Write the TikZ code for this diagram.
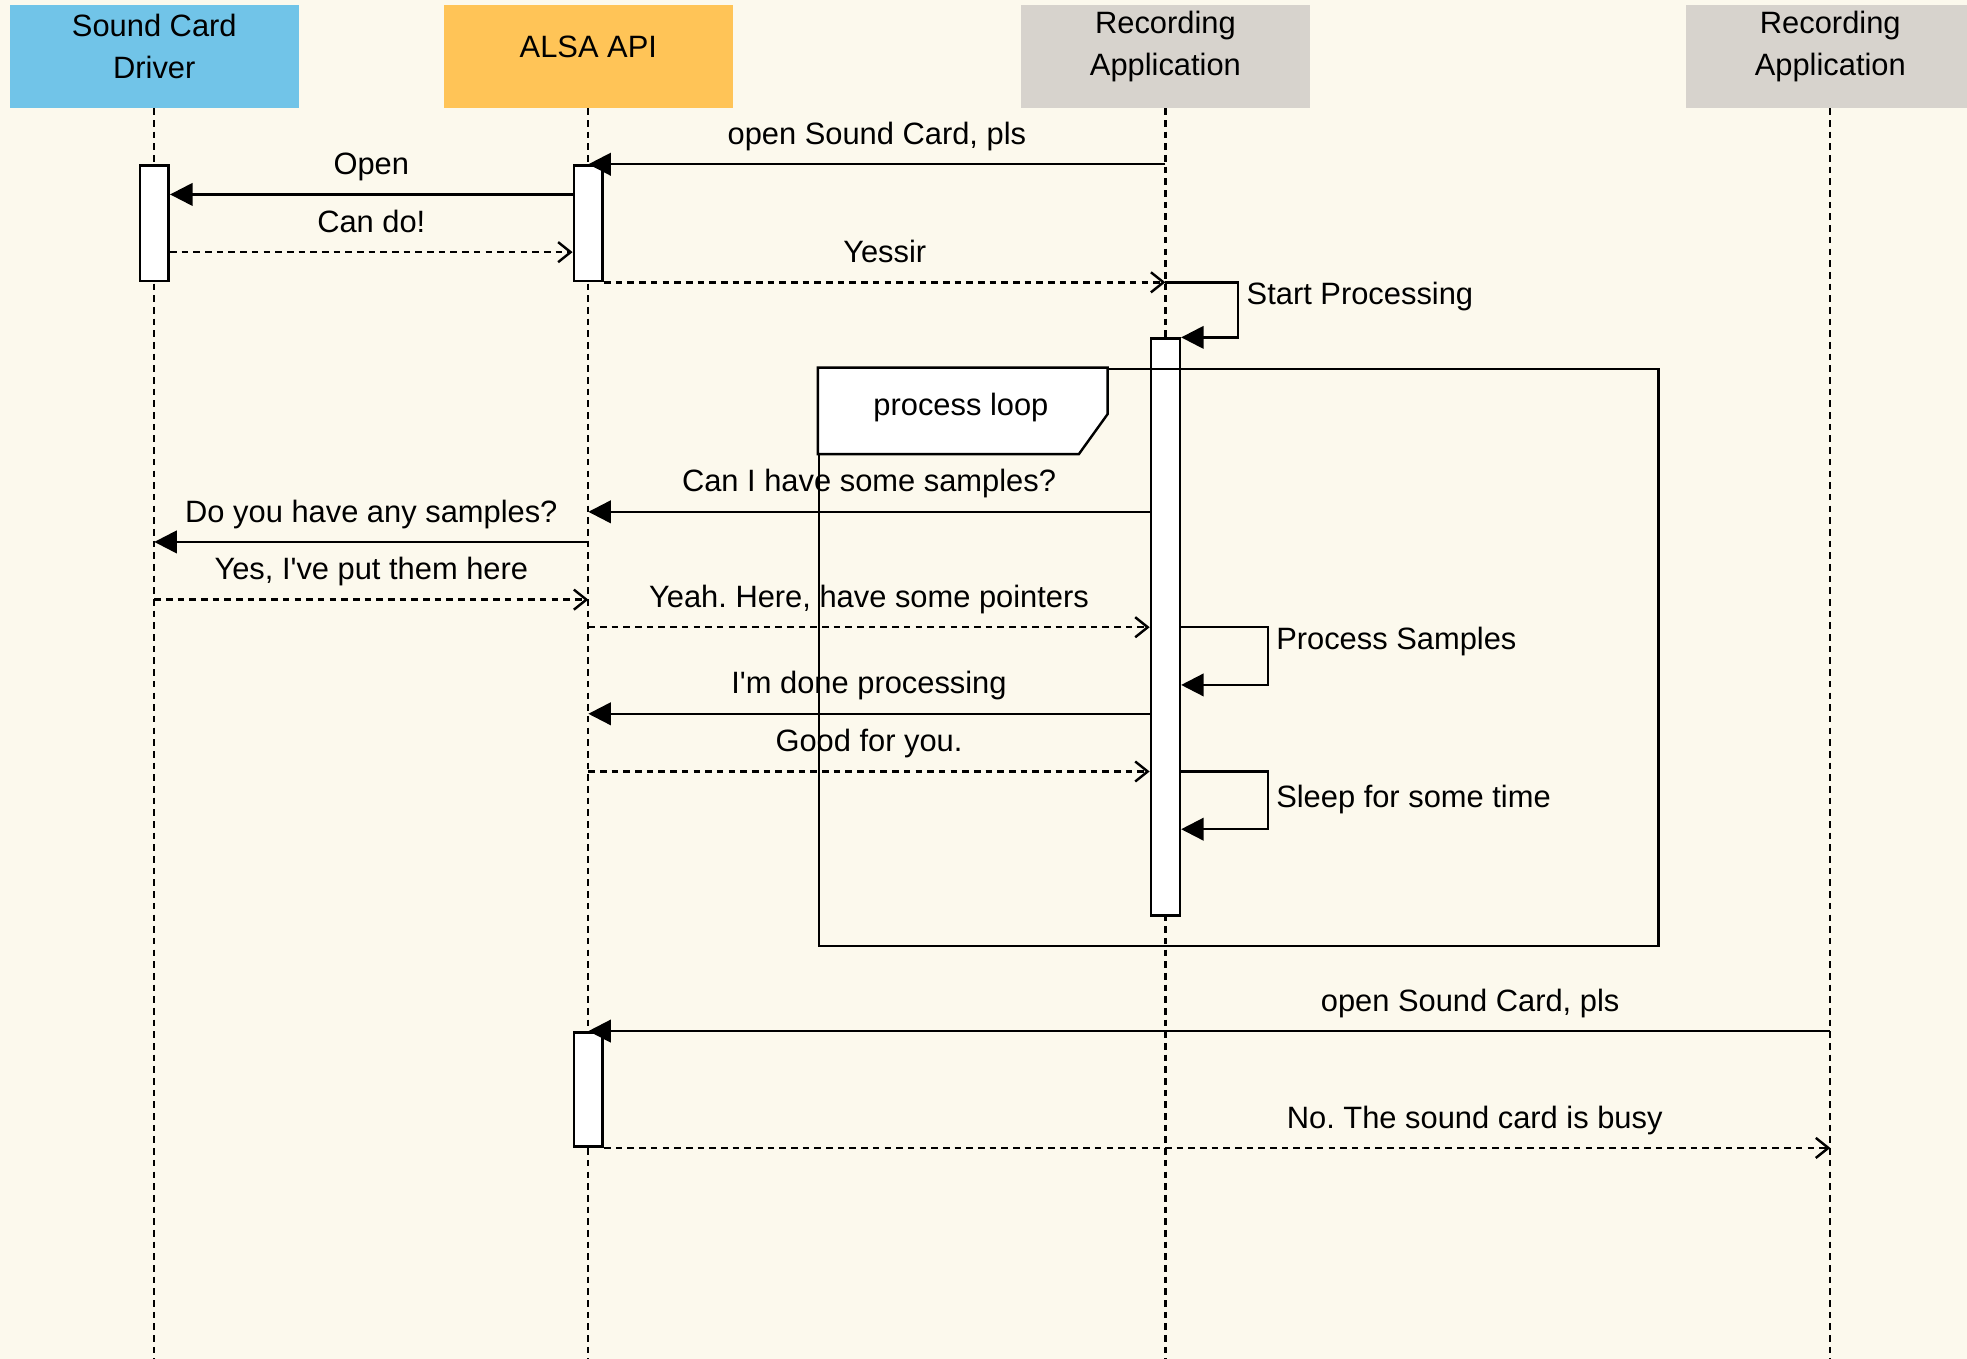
\documentclass[tikz,border=0pt]{standalone}
\usepackage{fontspec}
\setmainfont{Liberation Sans}
\usetikzlibrary{arrows.meta,positioning}
\definecolor{bgcream}{RGB}{252,249,237}
\definecolor{drvblue}{RGB}{113,196,232}
\definecolor{alsaorange}{RGB}{255,196,87}
\definecolor{appgray}{RGB}{215,211,205}

\begin{document}
\frenchspacing
\begin{tikzpicture}[
    every node/.style={font=\fontsize{14}{19}\selectfont},
    actor/.style={rectangle, minimum width=4.6cm, minimum height=1.64cm, inner sep=0pt},
    actortext/.style={align=center, yshift=0.16cm},
    lifeline/.style={line width=1pt, dash pattern=on 3pt off 2.3pt},
    bar/.style={rectangle, draw, fill=white, line width=1.2pt, minimum width=0.46cm, inner sep=0pt},
    call/.style={-{Triangle[length=0.36cm, width=0.36cm]}, line width=1.1pt},
    reply/.style={-{Straight Barb[length=0.2cm, width=0.32cm]}, line width=1.1pt, dash pattern=on 3pt off 2.3pt},
    msg/.style={above=0.08cm, text height=0.36cm, text depth=0.1cm},
    selfmsg/.style={right, text height=0.36cm, text depth=0.1cm}
]
    % Background
    \fill[bgcream] (0,0) rectangle (31.36,-21.66);
    \useasboundingbox (0,0) rectangle (31.36,-21.66);
    \clip (0,0) rectangle (31.36,-21.66);

    % Participants
    \node[actor, fill=drvblue, label={[actortext]center:{Sound Card\\Driver}}] (drv) at (2.46,-0.9) {};
    \node[actor, fill=alsaorange, label={[actortext]center:{ALSA API}}] (alsa) at (9.38,-0.9) {};
    \node[actor, fill=appgray, label={[actortext]center:{Recording\\Application}}] (rec) at (18.58,-0.9) {};
    \node[actor, fill=appgray, label={[actortext]center:{Recording\\Application}}] (recb) at (29.18,-0.9) {};

    \foreach \a in {drv,alsa,rec,recb}
        \draw[lifeline] (\a.south) -- (\a.south |- 0,-21.7);

    % Activations
    \node[bar, minimum height=1.84cm] (drvbar) at (2.46,-3.56) {};
    \node[bar, minimum height=1.84cm] (alsabar) at (9.38,-3.56) {};
    \node[bar, minimum height=9.2cm] (recbar) at (18.58,-10) {};
    \node[bar, minimum height=1.82cm] (alsabarb) at (9.38,-17.37) {};

    % Loop frame
    \node[draw, line width=1.1pt, minimum width=13.38cm, minimum height=9.2cm,
          anchor=north west, inner sep=0pt] (loop) at (13.04,-5.86) {};
    \draw[fill=white, line width=1.1pt] (loop.north west) -- ++(4.62,0) -- ++(0,-0.74)
        -- ++(-0.46,-0.64) -- ++(-4.16,0) -- cycle;
    \node (looplbl) at (15.32,-6.5) {process loop};

    % Opening the card
    \draw[call] (alsabar.north -| rec) -- node[msg] {open Sound Card, pls} (alsabar.north);
    \draw[call] (alsabar.west |- 0,-3.1) -- node[msg] {Open} (drvbar.east |- 0,-3.1);
    \draw[reply] (drvbar.east |- 0,-4.02) -- node[msg] {Can do!} (alsabar.west |- 0,-4.02);
    \draw[reply] (alsabar.south east) -- node[msg] {Yessir} (alsabar.south -| rec);
    \draw[call] (alsabar.south -| rec) -- ++(1.16,0) |- node[selfmsg, pos=0.13] {Start Processing} (recbar.north east);

    % Inside the loop
    \draw[call] (recbar.west |- 0,-8.16) -- node[msg] {Can I have some samples?} (alsa |- 0,-8.16);
    \draw[call] (alsa |- 0,-8.64) -- node[msg] {Do you have any samples?} (drv |- 0,-8.64);
    \draw[reply] (drv |- 0,-9.56) -- node[msg] {Yes, I\textquotesingle ve put them here} (alsa |- 0,-9.56);
    \draw[reply] (alsa |- recbar.west) -- node[msg] {Yeah. Here, have some pointers} (recbar.west);
    \draw[call] (recbar.east) -- ++(1.38,0) |- node[selfmsg, pos=0.12] {Process Samples} (recbar.east |- 0,-10.92);
    \draw[call] (recbar.west |- 0,-11.38) -- node[msg] {I\textquotesingle m done processing} (alsa |- 0,-11.38);
    \draw[reply] (alsa |- 0,-12.3) -- node[msg] {Good for you.} (recbar.west |- 0,-12.3);
    \draw[call] (recbar.east |- 0,-12.3) -- ++(1.38,0) |- node[selfmsg, pos=0.24] {Sleep for some time} (recbar.east |- 0,-13.22);

    % Second application
    \draw[call] (alsabarb.north -| recb) -- node[msg, pos=0.29] {open Sound Card, pls} (alsabarb.north);
    \draw[reply] (alsabarb.south east) -- node[msg, pos=0.71] {No. The sound card is busy} (alsabarb.south -| recb);

\end{tikzpicture}
\end{document}
